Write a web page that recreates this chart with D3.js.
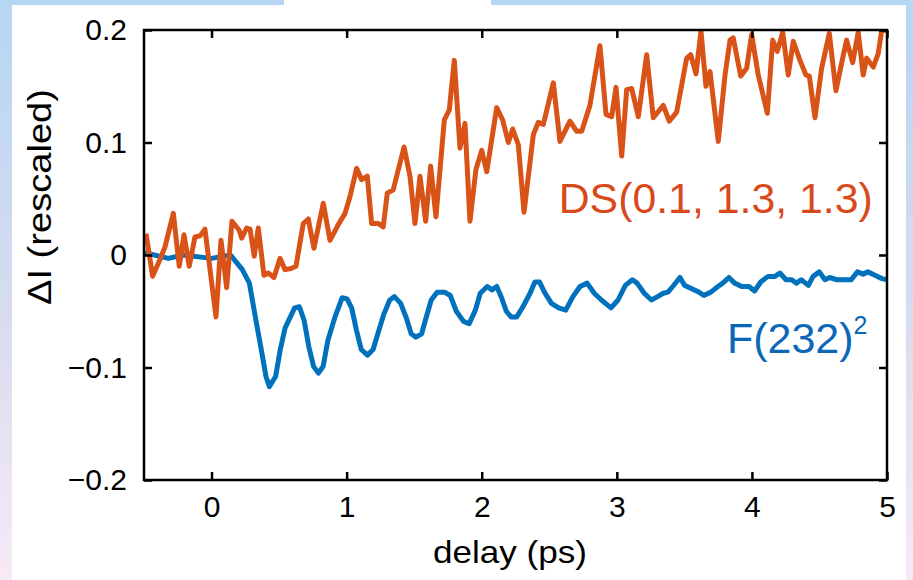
<!DOCTYPE html>
<html>
<head>
<meta charset="utf-8">
<script src="https://cdn.jsdelivr.net/npm/d3@7"></script>
<style>
  html, body { margin: 0; padding: 0; }
  body { width: 913px; height: 580px; overflow: hidden; }
  svg { display: block; font-family: "Liberation Sans", Arial, Helvetica, sans-serif; }
</style>
</head>
<body>
<div id="chart"></div>
<script>
// delay axis ticks / value axis ticks
const xTicks = [0, 1, 2, 3, 4, 5];
const yTicks = [-0.2, -0.1, 0, 0.1, 0.2];
const yTickLabels = ['\u22120.2', '\u22120.1', '0', '0.1', '0.2'];

// DS(0.1, 1.3, 1.3) simulation trace (orange)
const dsDelay = [-0.485, -0.436, -0.382, -0.345, -0.283, -0.239, -0.204, -0.165, -0.123, -0.085,
  -0.049, 0.033, 0.070, 0.112, 0.151, 0.205, 0.223, 0.260, 0.285, 0.316,
  0.346, 0.388, 0.420, 0.462, 0.507, 0.544, 0.588, 0.625, 0.679, 0.716,
  0.758, 0.827, 0.877, 0.938, 0.988, 1.025, 1.074, 1.111, 1.153, 1.185,
  1.234, 1.271, 1.301, 1.345, 1.425, 1.469, 1.506, 1.543, 1.585, 1.622,
  1.661, 1.723, 1.760, 1.797, 1.839, 1.876, 1.913, 1.957, 2.000, 2.037,
  2.111, 2.155, 2.197, 2.229, 2.271, 2.313, 2.382, 2.419, 2.456, 2.530,
  2.579, 2.653, 2.703, 2.740, 2.801, 2.875, 2.920, 2.962, 2.994, 3.036,
  3.073, 3.110, 3.159, 3.221, 3.270, 3.344, 3.388, 3.443, 3.517, 3.547,
  3.586, 3.623, 3.660, 3.690, 3.751, 3.801, 3.838, 3.862, 3.917, 3.961,
  3.998, 4.047, 4.114, 4.154, 4.188, 4.228, 4.269, 4.306, 4.356, 4.400,
  4.425, 4.467, 4.516, 4.573, 4.622, 4.672, 4.701, 4.746, 4.787, 4.824,
  4.849, 4.898, 4.935, 4.960, 5.000];
const dsSignal = [0.019, -0.019, -0.004, 0.007, 0.037, -0.010, 0.018, -0.010, 0.016, 0.017,
  0.023, -0.055, 0.013, -0.029, 0.030, 0.022, 0.015, 0.024, 0.023, -0.001,
  0.024, -0.018, -0.016, -0.020, -0.003, -0.013, -0.012, -0.010, 0.028, 0.032,
  0.006, 0.046, 0.013, 0.027, 0.037, 0.052, 0.077, 0.067, 0.070, 0.028,
  0.028, 0.025, 0.055, 0.058, 0.096, 0.070, 0.028, 0.070, 0.030, 0.079,
  0.034, 0.120, 0.129, 0.173, 0.095, 0.117, 0.030, 0.076, 0.093, 0.074,
  0.131, 0.120, 0.100, 0.112, 0.098, 0.038, 0.107, 0.118, 0.116, 0.153,
  0.101, 0.119, 0.110, 0.110, 0.133, 0.186, 0.125, 0.123, 0.149, 0.088,
  0.147, 0.148, 0.123, 0.178, 0.122, 0.133, 0.119, 0.127, 0.175, 0.178,
  0.161, 0.199, 0.150, 0.163, 0.101, 0.160, 0.191, 0.193, 0.159, 0.166,
  0.196, 0.160, 0.126, 0.191, 0.181, 0.198, 0.160, 0.190, 0.173, 0.160,
  0.159, 0.122, 0.166, 0.197, 0.146, 0.175, 0.191, 0.171, 0.198, 0.160,
  0.175, 0.167, 0.179, 0.199, 0.200];

// F(232)^2 trace (blue)
const fDelay = [-0.494, -0.319, -0.213, 0.000, 0.140, 0.228, 0.280, 0.333, 0.368, 0.403,
  0.428, 0.474, 0.509, 0.544, 0.615, 0.650, 0.685, 0.721, 0.755, 0.791,
  0.826, 0.861, 0.914, 0.967, 1.003, 1.037, 1.073, 1.108, 1.154, 1.196,
  1.231, 1.274, 1.319, 1.354, 1.400, 1.442, 1.478, 1.513, 1.555, 1.583,
  1.626, 1.671, 1.724, 1.767, 1.812, 1.865, 1.907, 1.953, 1.989, 2.041,
  2.076, 2.111, 2.147, 2.182, 2.217, 2.259, 2.305, 2.358, 2.393, 2.428,
  2.464, 2.516, 2.569, 2.622, 2.675, 2.728, 2.780, 2.833, 2.886, 2.957,
  3.009, 3.063, 3.115, 3.150, 3.203, 3.256, 3.302, 3.344, 3.379, 3.414,
  3.467, 3.502, 3.555, 3.608, 3.644, 3.696, 3.749, 3.784, 3.830, 3.872,
  3.925, 3.978, 4.020, 4.065, 4.119, 4.171, 4.207, 4.252, 4.295, 4.330,
  4.365, 4.418, 4.453, 4.499, 4.541, 4.576, 4.629, 4.682, 4.735, 4.781,
  4.823, 4.858, 4.911, 4.963, 5.000];
const fSignal = [0.002, -0.003, 0.000, -0.003, 0.000, -0.013, -0.025, -0.061, -0.084, -0.108,
  -0.117, -0.108, -0.084, -0.065, -0.047, -0.046, -0.058, -0.082, -0.099, -0.105,
  -0.099, -0.076, -0.055, -0.038, -0.039, -0.047, -0.067, -0.084, -0.089, -0.084,
  -0.070, -0.053, -0.040, -0.037, -0.043, -0.056, -0.070, -0.073, -0.070, -0.058,
  -0.040, -0.033, -0.033, -0.036, -0.050, -0.059, -0.061, -0.049, -0.034, -0.028,
  -0.031, -0.028, -0.038, -0.050, -0.055, -0.055, -0.046, -0.034, -0.024, -0.024,
  -0.033, -0.043, -0.047, -0.049, -0.037, -0.028, -0.025, -0.034, -0.040, -0.047,
  -0.040, -0.027, -0.022, -0.025, -0.034, -0.040, -0.037, -0.034, -0.033, -0.028,
  -0.020, -0.027, -0.030, -0.033, -0.036, -0.033, -0.028, -0.025, -0.020, -0.025,
  -0.028, -0.028, -0.032, -0.024, -0.019, -0.019, -0.016, -0.022, -0.022, -0.025,
  -0.022, -0.027, -0.019, -0.015, -0.022, -0.020, -0.022, -0.022, -0.022, -0.015,
  -0.017, -0.015, -0.018, -0.021, -0.022];

const W = 913, H = 580;
const margin = { top: 30, right: 26, bottom: 100, left: 144 };
const innerW = W - margin.left - margin.right;
const innerH = H - margin.top - margin.bottom;

const svg = d3.select('#chart').append('svg')
  .attr('width', W)
  .attr('height', H);

// slide background: gradient frame with white panel
const grad = svg.append('defs').append('linearGradient')
  .attr('id', 'bg').attr('x1', 0).attr('y1', 0).attr('x2', 0).attr('y2', 1);
grad.append('stop').attr('offset', '0%').attr('stop-color', '#b6d6f3');
grad.append('stop').attr('offset', '55%').attr('stop-color', '#d8dcef');
grad.append('stop').attr('offset', '100%').attr('stop-color', '#f7eaf6');

svg.append('rect').attr('width', W).attr('height', H).attr('fill', 'url(#bg)');
svg.append('rect').attr('x', 12).attr('y', 5).attr('width', 894).attr('height', H - 5).attr('fill', '#fff');
svg.append('rect').attr('x', 284).attr('y', 0).attr('width', 207).attr('height', 8).attr('fill', '#fff');

const g = svg.append('g').attr('transform', `translate(${margin.left},${margin.top})`);

const x = d3.scaleLinear().domain([-0.5, 5]).range([0, innerW]);
const y = d3.scaleLinear().domain([-0.2, 0.2]).range([innerH, 0]);

const line = d3.line()
  .x(d => x(d[0]))
  .y(d => y(d[1]));

g.append('defs').append('clipPath').attr('id', 'plotclip')
  .append('rect').attr('x', 0).attr('y', 0).attr('width', innerW).attr('height', innerH);

const plot = g.append('g').attr('clip-path', 'url(#plotclip)');

plot.append('path')
  .datum(d3.zip(fDelay, fSignal))
  .attr('d', line)
  .attr('fill', 'none')
  .attr('stroke', '#0072bd')
  .attr('stroke-width', 5)
  .attr('stroke-linejoin', 'round');

plot.append('path')
  .datum(d3.zip(dsDelay, dsSignal))
  .attr('d', line)
  .attr('fill', 'none')
  .attr('stroke', '#d95319')
  .attr('stroke-width', 5)
  .attr('stroke-linejoin', 'round');

// axes, ticks pointing inward on all four sides
const tickLen = 8;
const fmtY = d => yTickLabels[yTicks.indexOf(d)];

const xBottom = g.append('g')
  .attr('transform', `translate(0,${innerH})`)
  .call(d3.axisBottom(x).tickValues(xTicks).tickSize(-tickLen).tickPadding(16).tickFormat(d3.format('d')));
const xTop = g.append('g')
  .call(d3.axisTop(x).tickValues(xTicks).tickSize(-tickLen).tickFormat(''));
const yLeft = g.append('g')
  .call(d3.axisLeft(y).tickValues(yTicks).tickSize(-tickLen).tickPadding(17).tickFormat(fmtY));
const yRight = g.append('g')
  .attr('transform', `translate(${innerW},0)`)
  .call(d3.axisRight(y).tickValues(yTicks).tickSize(-tickLen).tickFormat(''));

[xBottom, xTop, yLeft, yRight].forEach(a => {
  a.select('.domain').remove();
  a.selectAll('line').attr('stroke', '#000').attr('stroke-width', 2.5);
  a.selectAll('text').attr('fill', '#000').style('font-size', '30px').style('font-family', '"Liberation Sans", Arial, sans-serif');
});

g.append('rect')
  .attr('width', innerW).attr('height', innerH)
  .attr('fill', 'none').attr('stroke', '#000').attr('stroke-width', 2.5);

// axis titles
svg.append('text')
  .attr('x', 510).attr('y', 563)
  .attr('text-anchor', 'middle')
  .attr('textLength', 154)
  .attr('lengthAdjust', 'spacingAndGlyphs')
  .style('font-size', '32px')
  .text('delay (ps)');

svg.append('text')
  .attr('transform', 'translate(51,197) rotate(-90)')
  .attr('text-anchor', 'middle')
  .attr('textLength', 216)
  .attr('lengthAdjust', 'spacingAndGlyphs')
  .style('font-size', '33px')
  .text('\u0394I (rescaled)');

// series labels
g.append('text')
  .attr('x', x(2.57)).attr('y', y(0.037))
  .attr('fill', '#d84a1b')
  .attr('textLength', 314)
  .attr('lengthAdjust', 'spacingAndGlyphs')
  .style('font-size', '43px')
  .text('DS(0.1, 1.3, 1.3)');

const fLabel = g.append('text')
  .attr('x', x(3.815)).attr('y', y(-0.087))
  .attr('fill', '#0b67b8')
  .style('font-size', '43px');
fLabel.append('tspan').text('F(232)');
fLabel.append('tspan').attr('dy', -19).style('font-size', '25px').text('2');
</script>
</body>
</html>
